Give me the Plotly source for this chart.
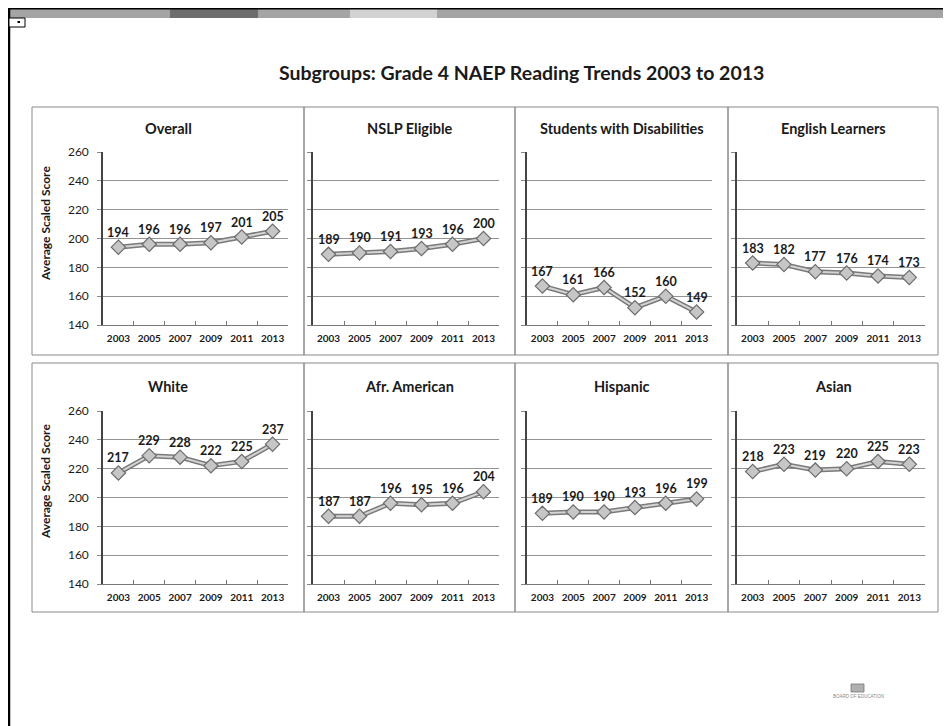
import plotly.graph_objects as go

# Page is photographed with the default 8px body margin, so the figure is
# sized and positioned to compensate.
PAGE_W, PAGE_H = 951, 726
OFF = 8
W, H = PAGE_W - OFF, PAGE_H - OFF

years = ["2003", "2005", "2007", "2009", "2011", "2013"]
panel_titles = ["Overall", "NSLP Eligible", "Students with Disabilities", "English Learners",
                "White", "Afr. American", "Hispanic", "Asian"]
overall = [194, 196, 196, 197, 201, 205]
nslp = [189, 190, 191, 193, 196, 200]
swd = [167, 161, 166, 152, 160, 149]
ell = [183, 182, 177, 176, 174, 173]
white = [217, 229, 228, 222, 225, 237]
afr_american = [187, 187, 196, 195, 196, 204]
hispanic = [189, 190, 190, 193, 196, 199]
asian = [218, 223, 219, 220, 225, 223]
series = [overall, nslp, swd, ell, white, afr_american, hispanic, asian]
y_ticks = [140, 160, 180, 200, 220, 240, 260]
y_title = "Average Scaled Score"
main_title = "Subgroups: Grade 4 NAEP Reading Trends 2003 to 2013"
page_number = "23"
logo_text = "BOARD OF EDUCATION"

FONT = "Lato"
TXT = "#1a1a1a"


def px_x(p):
    return (p - OFF) / W


def px_y(p):
    return 1 - (p - OFF) / H


plot_cols = [(103, 288), (313, 499), (527, 712), (737, 925)]
plot_rows = [(152, 325), (411, 584)]
panel_cols = [(32, 304), (304, 515), (515, 728), (728, 938)]
panel_rows = [(107, 355), (363, 612)]
title_rows = [128, 386]
ytitle_rows = [224, 482]

fig = go.Figure()
shapes = []
annotations = []

for i, vals in enumerate(series):
    r, c = divmod(i, 4)
    n = i + 1
    xa = "x" if n == 1 else f"x{n}"
    ya = "y" if n == 1 else f"y{n}"
    fig.add_trace(go.Scatter(x=years, y=vals, mode="lines", xaxis=xa, yaxis=ya,
                             line=dict(color="#7a7a7a", width=5), showlegend=False,
                             hoverinfo="skip"))
    fig.add_trace(go.Scatter(x=years, y=vals, mode="lines+markers", xaxis=xa, yaxis=ya,
                             line=dict(color="#d4d4d4", width=2),
                             marker=dict(symbol="diamond", size=11, color="#c6c6c6",
                                         line=dict(color="#6c6c6c", width=1.2)),
                             showlegend=False))
    for j, v in enumerate(vals):
        annotations.append(dict(x=j, y=v, xref=xa, yref=ya, text=f"<b>{v}</b>",
                                showarrow=False, yshift=15,
                                font=dict(family=FONT, size=12.5, color=TXT)))
    x0, x1 = plot_cols[c]
    y0, y1 = plot_rows[r]
    ax_key = "xaxis" if n == 1 else f"xaxis{n}"
    ay_key = "yaxis" if n == 1 else f"yaxis{n}"
    fig.update_layout(**{
        ax_key: dict(domain=[px_x(x0), px_x(x1)], anchor=ya, type="category",
                     categoryorder="array", categoryarray=years, range=[-0.5, 5.5],
                     autorange=False, automargin=False,
                     showgrid=False, showline=True, linecolor="#777777", linewidth=1,
                     ticks="inside", tickson="boundaries", ticklen=4, tickcolor="#777777",
                     tickangle=0,
                     tickfont=dict(family=FONT, size=10, color=TXT, weight="bold"),
                     ticklabelstandoff=4, fixedrange=True, zeroline=False),
        ay_key: dict(domain=[px_y(y1), px_y(y0)], anchor=xa, range=[140, 260],
                     autorange=False, automargin=False,
                     tickmode="array", tickvals=y_ticks,
                     showgrid=True, gridcolor="#939393", gridwidth=1,
                     showline=True, linecolor="#444444", linewidth=1.5,
                     ticks="outside", ticklen=4, tickcolor="#888888",
                     showticklabels=(c == 0),
                     tickfont=dict(family=FONT, size=12, color=TXT),
                     ticklabelstandoff=6, fixedrange=True, zeroline=False),
    })
    px0, px1 = panel_cols[c]
    py0, py1 = panel_rows[r]
    shapes.append(dict(type="rect", xref="paper", yref="paper",
                       x0=px_x(px0), x1=px_x(px1), y0=px_y(py1), y1=px_y(py0),
                       line=dict(color="#8a8a8a", width=1), layer="below"))
    annotations.append(dict(x=px_x((px0 + px1) / 2), y=px_y(title_rows[r]), xref="paper",
                            yref="paper", text=f"<b>{panel_titles[i]}</b>", showarrow=False,
                            xanchor="center", yanchor="middle",
                            font=dict(family=FONT, size=14.5, color=TXT)))
    if c == 0:
        annotations.append(dict(x=px_x(45), y=px_y(ytitle_rows[r]), xref="paper", yref="paper",
                                text=f"<b>{y_title}</b>", showarrow=False, textangle=-90,
                                xanchor="center", yanchor="middle",
                                font=dict(family=FONT, size=12, color=TXT)))

annotations.append(dict(x=px_x(521), y=px_y(73), xref="paper", yref="paper",
                        text=f"<b>{main_title}</b>", showarrow=False,
                        xanchor="center", yanchor="middle",
                        font=dict(family=FONT, size=19.5, color=TXT)))
annotations.append(dict(x=px_x(942), y=px_y(692), xref="paper", yref="paper",
                        text=page_number, showarrow=False, xanchor="left", yanchor="middle",
                        font=dict(family="Liberation Sans", size=12, color=TXT)))
annotations.append(dict(x=px_x(858), y=px_y(696), xref="paper", yref="paper",
                        text=logo_text, showarrow=False, xanchor="center", yanchor="middle",
                        font=dict(family="Liberation Sans", size=4.5, color="#888888")))

shapes += [
    dict(type="rect", xref="paper", yref="paper", x0=px_x(8), x1=1, y0=px_y(18), y1=px_y(8),
         fillcolor="#a4a4a4", line=dict(width=0)),
    dict(type="rect", xref="paper", yref="paper", x0=px_x(170), x1=px_x(258), y0=px_y(18),
         y1=px_y(8), fillcolor="#6e6e6e", line=dict(width=0)),
    dict(type="rect", xref="paper", yref="paper", x0=px_x(350), x1=px_x(437), y0=px_y(18),
         y1=px_y(8), fillcolor="#d2d2d2", line=dict(width=0)),
    dict(type="line", xref="paper", yref="paper", x0=px_x(8), x1=1, y0=px_y(8.7), y1=px_y(8.7),
         line=dict(color="#000000", width=1.5)),
    dict(type="line", xref="paper", yref="paper", x0=px_x(9), x1=px_x(9), y0=0, y1=px_y(8),
         line=dict(color="#000000", width=2.5)),
    dict(type="rect", xref="paper", yref="paper", x0=px_x(9), x1=px_x(25), y0=px_y(27),
         y1=px_y(18), fillcolor="white", line=dict(color="#000000", width=1)),
    dict(type="rect", xref="paper", yref="paper", x0=px_x(17.5), x1=px_x(20), y0=px_y(23),
         y1=px_y(21), fillcolor="#000000", line=dict(width=0)),
    # small logo glyph above the logo caption
    dict(type="rect", xref="paper", yref="paper", x0=px_x(851), x1=px_x(864), y0=px_y(692),
         y1=px_y(684), fillcolor="#b0b0b0", line=dict(color="#777777", width=0.8)),
]

fig.update_layout(width=W, height=H, margin=dict(l=0, r=0, t=0, b=0, autoexpand=False),
                  paper_bgcolor="white", plot_bgcolor="white",
                  shapes=shapes, annotations=annotations, showlegend=False,
                  font=dict(family=FONT, color=TXT))

fig.write_html("out.html")
